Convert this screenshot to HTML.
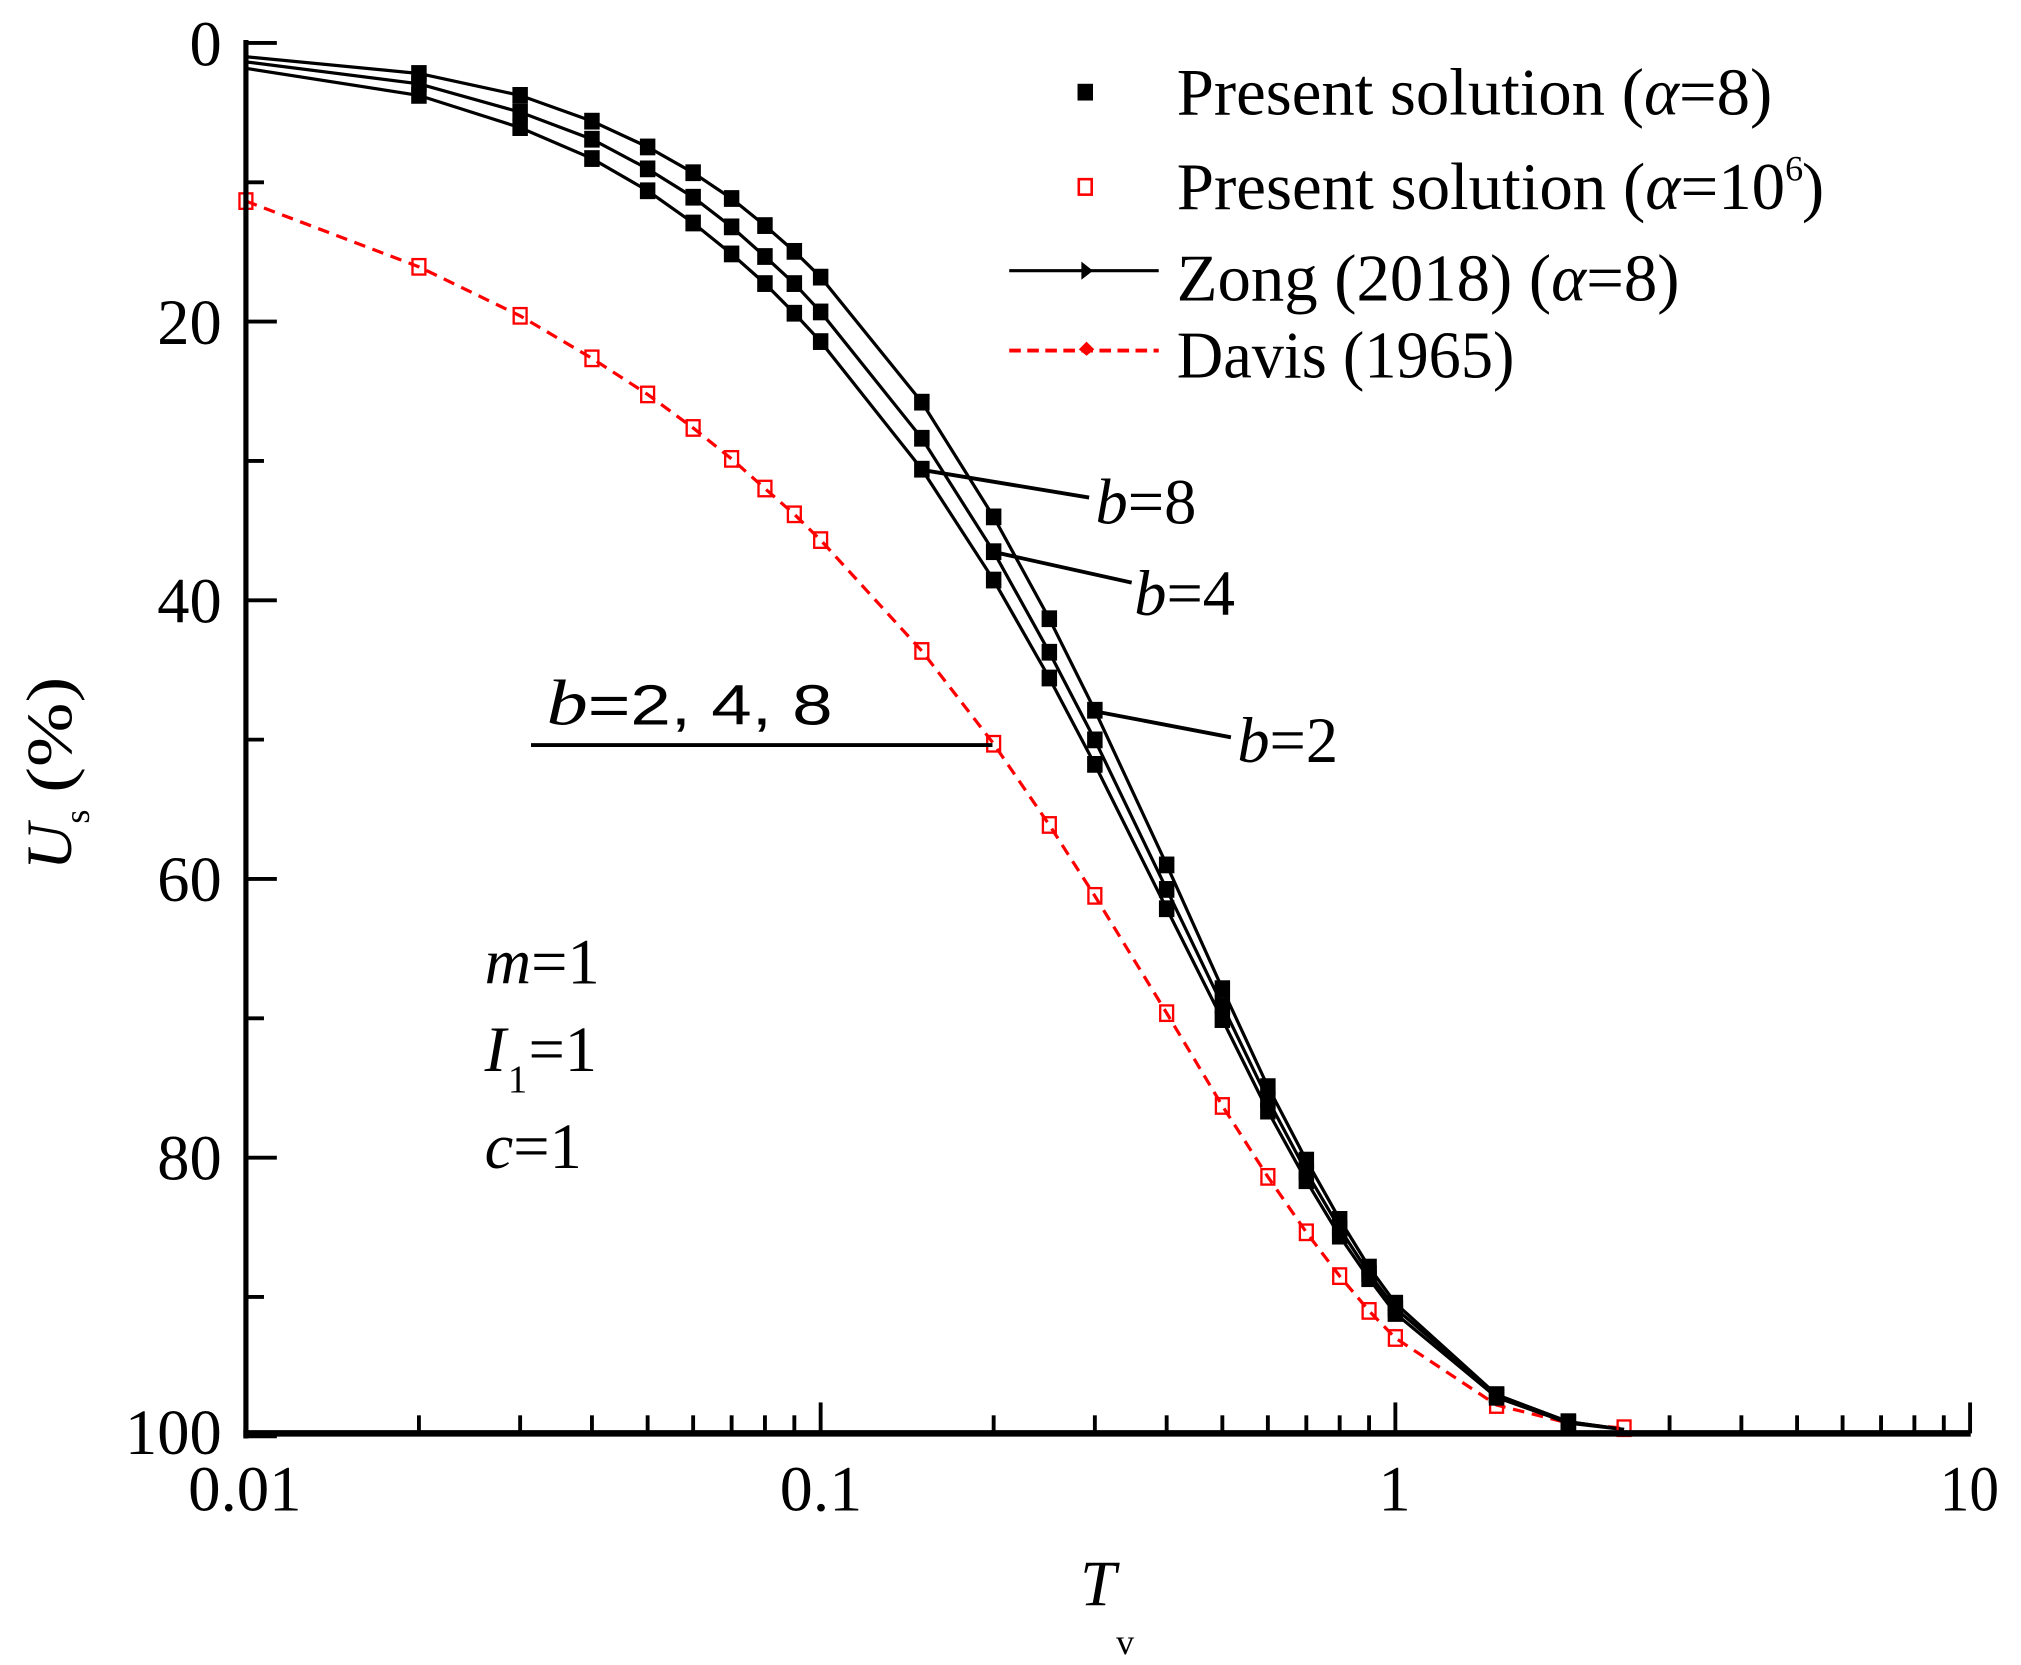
<!DOCTYPE html>
<html><head><meta charset="utf-8"><style>
html,body{margin:0;padding:0;background:#fff;}
svg{display:block;}
text{font-family:"Liberation Serif",serif;fill:#000;}
</style></head><body>
<svg id="s" width="2021" height="1665" viewBox="0 0 1568 1291.7" preserveAspectRatio="none" xmlns="http://www.w3.org/2000/svg">
<g id="plot"></g>
<line x1="190.8" y1="31" x2="190.8" y2="1116" stroke="#000" stroke-width="4"/>
<line x1="188.8" y1="1112" x2="1529" y2="1112" stroke="#000" stroke-width="5"/>
<g id="ticks" stroke="#000" stroke-width="3"></g>
<g font-size="50" text-anchor="end">
<text x="172" y="51">0</text>
<text x="172" y="267">20</text>
<text x="172" y="483">40</text>
<text x="172" y="699">60</text>
<text x="172" y="915">80</text>
<text x="172" y="1128">100</text>
</g>
<g font-size="50" text-anchor="middle">
<text x="190" y="1172" textLength="88" lengthAdjust="spacingAndGlyphs">0.01</text>
<text x="637" y="1172" textLength="64" lengthAdjust="spacingAndGlyphs">0.1</text>
<text x="1082" y="1172">1</text>
<text x="1528" y="1172" textLength="46" lengthAdjust="spacingAndGlyphs">10</text>
</g>
<text x="838" y="1245" font-size="50" font-style="italic">T</text>
<text x="866" y="1283" font-size="28">v</text>
<g transform="translate(55,600) rotate(-90)">
<text x="-75" y="0" font-size="50" font-style="italic">U</text>
<text x="-39" y="14" font-size="28">s</text>
<text x="-15" y="0" font-size="50" textLength="90" lengthAdjust="spacingAndGlyphs">(%)</text>
</g>
<rect x="836" y="65" width="12" height="13" fill="#000"/>
<rect x="837" y="139" width="10" height="12" fill="none" stroke="#f00" stroke-width="2"/>
<line x1="783" y1="210" x2="899" y2="210" stroke="#000" stroke-width="2.5"/>
<polygon points="839,203 848,210 839,217" fill="#000"/>
<line x1="783" y1="272" x2="899" y2="272" stroke="#f00" stroke-width="3" stroke-dasharray="9,5"/>
<polygon points="843,265 849,271 843,276 837,271" fill="#f00"/>
<g font-size="52">
<text x="913" y="89" textLength="462" lengthAdjust="spacingAndGlyphs">Present solution (<tspan font-style="italic">α</tspan>=8)</text>
<text x="913" y="162" textLength="472" lengthAdjust="spacingAndGlyphs">Present solution (<tspan font-style="italic">α</tspan>=10</text>
<text x="1385" y="140" font-size="28">6</text>
<text x="1398" y="162">)</text>
<text x="913" y="233" textLength="390" lengthAdjust="spacingAndGlyphs">Zong (2018) (<tspan font-style="italic">α</tspan>=8)</text>
<text x="913" y="293" textLength="262" lengthAdjust="spacingAndGlyphs">Davis (1965)</text>
</g>
<g stroke="#000" stroke-width="3">
<line x1="712" y1="364" x2="845" y2="386"/>
<line x1="770" y1="428" x2="878" y2="452"/>
<line x1="845" y1="551" x2="955" y2="572"/>
<line x1="412" y1="578" x2="770" y2="578"/>
</g>
<g font-size="50">
<text x="850" y="406"><tspan font-style="italic">b</tspan>=8</text>
<text x="880" y="477"><tspan font-style="italic">b</tspan>=4</text>
<text x="960" y="591"><tspan font-style="italic">b</tspan>=2</text>
<text x="424" y="562" textLength="222" lengthAdjust="spacingAndGlyphs"><tspan font-style="italic">b</tspan><tspan font-family="Liberation Sans,sans-serif" font-size="44">=2,  4,  8</tspan></text>
<text x="376" y="763"><tspan font-style="italic">m</tspan>=1</text>
<text x="376" y="831"><tspan font-style="italic">I</tspan></text>
<text x="394" y="847" font-size="30">1</text>
<text x="410" y="831">=1</text>
<text x="376" y="906"><tspan font-style="italic">c</tspan>=1</text>
</g>
</svg>
<script>
var NS="http://www.w3.org/2000/svg";
function X(t){return 190.8+445.9*Math.log10(t/0.01);}
var T=[0.01,0.02,0.03,0.04,0.05,0.06,0.07,0.08,0.09,0.1,0.15,0.2,0.25,0.3,0.4,0.5,0.6,0.7,0.8,0.9,1,1.5,2,2.5];
var B8=[44,57,74,94,114,134,154,175,195,215,312,401,480,551,671,767,843,900,946,983,1011,1082,1103,1109];
var B4=[48,65,87,108,131,153,176,199,220,242,340,428,506,574,690,780,853,909,953,988,1015,1082,1103,1109];
var B2=[53,74,99,123,148,173,197,220,243,265,364,450,526,593,705,791,862,916,959,992,1019,1084,1104,1109];
var R=[156,207,245,278,306,332,356,379,399,419,505,577,640,695,786,858,913,956,990,1017,1038,1090,1104,1108];
var g=document.getElementById("plot");
function el(n,a){var e=document.createElementNS(NS,n);for(var k in a)e.setAttribute(k,a[k]);return e;}
function pts(Y){return T.map(function(t,i){return X(t).toFixed(1)+","+Y[i];}).join(" ");}
g.appendChild(el("polyline",{points:pts(R),fill:"none",stroke:"#f00","stroke-width":2.5,"stroke-dasharray":"9,6"}));
[B8,B4,B2].forEach(function(Y){g.appendChild(el("polyline",{points:pts(Y),fill:"none",stroke:"#000","stroke-width":2.5}));});
T.forEach(function(t,i){var x=X(t);
 g.appendChild(el("rect",{x:x-5,y:R[i]-6,width:10,height:12,fill:"none",stroke:"#f00","stroke-width":1.8}));});
T.forEach(function(t,i){if(i==0||i>=23)return;var x=X(t);
 [B8,B4,B2].forEach(function(Y){g.appendChild(el("rect",{x:x-6,y:Y[i]-6.5,width:12,height:13,fill:"#000"}));});});
var tk=document.getElementById("ticks");
for(var v=0;v<=100;v+=10){var y=33.3+10.81*v;var L=(v%20==0)?24:14;
 tk.appendChild(el("line",{x1:190.8,y1:y,x2:190.8+L,y2:y}));}
for(var d=0;d<3;d++)for(var m=1;m<=10;m++){if(m==1&&d>0)continue;var x=X(0.01*Math.pow(10,d)*m);var L=(m==1||m==10)?24:14;
 tk.appendChild(el("line",{x1:x,y1:1112,x2:x,y2:1112-L}));}
</script>
</body></html>
